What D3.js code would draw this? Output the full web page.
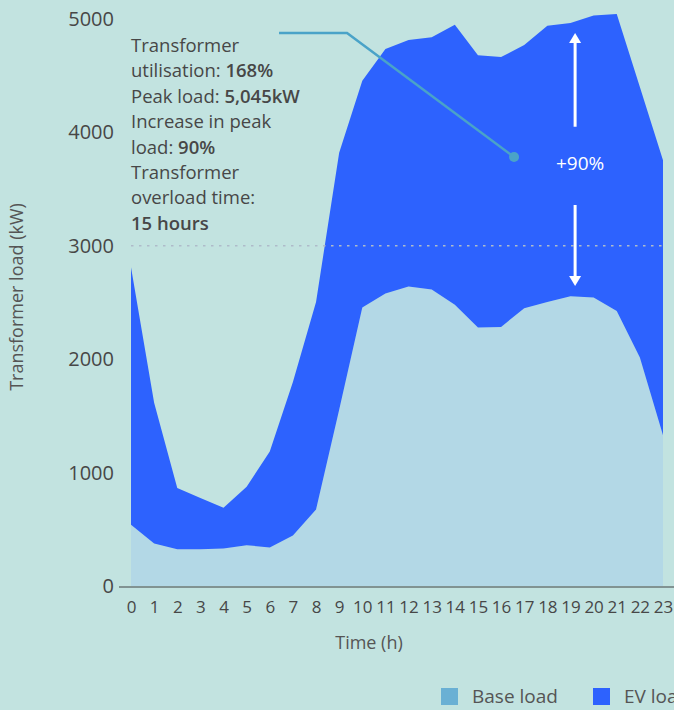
<!doctype html>
<html lang="en">
<head>
    <title>Transformer load</title>
    <script src='https://d3js.org/d3.v7.min.js'></script>
    <style>
        body { margin: 0; background: #c2e3e0; }
        svg { display: block; font-family: "Open Sans", sans-serif; }
    </style>
</head>

<body>
    <div id="chart"></div>
    <script>
        // hourly loads in kW
        var hours = d3.range(0, 24);
        var baseLoad = [540, 375, 325, 325, 330, 360, 340, 445, 675, 1555, 2455, 2580,
                        2640, 2615, 2480, 2280, 2285, 2450, 2505, 2555, 2545, 2425, 2015, 1330];
        var evLoad = [2270, 1240, 540, 450, 360, 515, 845, 1355, 1830, 2265, 2000, 2155,
                      2175, 2225, 2470, 2400, 2380, 2320, 2435, 2410, 2485, 2620, 2385, 2425];
        var yTicks = [0, 1000, 2000, 3000, 4000, 5000];
        var seriesNames = ["Base load", "EV load"];
        var capacity = 3000;

        var noteLines = [
            [["Transformer", false]],
            [["utilisation: ", false], ["168%", true]],
            [["Peak load: ", false], ["5,045kW", true]],
            [["Increase in peak", false]],
            [["load: ", false], ["90%", true]],
            [["Transformer", false]],
            [["overload time:", false]],
            [["15 hours", true]]
        ];

        var width = 674,
            height = 710;

        var baseColor = "#b3d8e6",
            baseKey = "#6ab0d4",
            evColor = "#2d62fe",
            textColor = "#474747";

        var x = d3.scaleLinear().domain([0, 23]).range([131, 663]);
        var y = d3.scaleLinear().domain([0, 5000]).range([586, 19]);

        var rows = hours.map(function(h, i) {
            return { hour: h, base: baseLoad[i], ev: evLoad[i] };
        });

        var stack = d3.stack().keys(["base", "ev"]);
        var layers = stack(rows);

        var area = d3.area()
            .x(function(d) { return x(d.data.hour); })
            .y0(function(d) { return y(d[0]); })
            .y1(function(d) { return y(d[1]); });

        var svg = d3.select("#chart").append("svg")
            .attr("width", width)
            .attr("height", height);

        svg.selectAll("path.layer")
            .data(layers)
            .enter().append("path")
            .attr("class", "layer")
            .attr("fill", function(d, i) { return i == 0 ? baseColor : evColor; })
            .attr("d", area);

        // transformer capacity line
        svg.append("line")
            .attr("x1", x(0)).attr("x2", x(23))
            .attr("y1", y(capacity)).attr("y2", y(capacity))
            .attr("stroke", "#aebbc9")
            .attr("stroke-width", 1.5)
            .attr("stroke-dasharray", "2.5,5.5");

        // y axis
        var yAxis = d3.axisLeft(y).tickValues(yTicks).tickFormat(d3.format("d"))
            .tickSize(0).tickPadding(17);
        var gy = svg.append("g")
            .attr("transform", "translate(" + x(0) + ",0)")
            .call(yAxis);
        gy.select(".domain").remove();
        gy.selectAll("text")
            .attr("fill", textColor)
            .style("font-size", "20px")
            .style("font-family", "Open Sans");

        // x axis
        var xAxis = d3.axisBottom(x).tickValues(hours).tickSize(0).tickPadding(15);
        var gx = svg.append("g")
            .attr("transform", "translate(0," + y(0) + ")")
            .call(xAxis);
        gx.select(".domain").remove();
        gx.selectAll("text")
            .attr("fill", textColor)
            .style("font-size", "17px")
            .style("font-family", "Open Sans");

        svg.append("line")
            .attr("x1", 119).attr("x2", width)
            .attr("y1", y(0) + 1).attr("y2", y(0) + 1)
            .attr("stroke", "#6b7878")
            .attr("stroke-width", 1.5);

        // axis titles
        svg.append("text")
            .attr("transform", "translate(23," + 297 + ") rotate(-90)")
            .attr("text-anchor", "middle")
            .attr("fill", "#555")
            .style("font-size", "18px")
            .text("Transformer load (kW)");

        svg.append("text")
            .attr("x", 369).attr("y", 649)
            .attr("text-anchor", "middle")
            .attr("fill", "#555")
            .style("font-size", "18px")
            .text("Time (h)");

        // annotation text
        var note = svg.append("text")
            .attr("fill", textColor)
            .style("font-size", "18.5px");
        noteLines.forEach(function(line, i) {
            line.forEach(function(part, j) {
                var ts = note.append("tspan").text(part[0]);
                if (j == 0) ts.attr("x", x(0)).attr("y", 52 + i * 25.4);
                if (part[1]) ts.attr("font-weight", 600);
            });
        });

        // leader line to the EV area
        var leader = [[6.4, 4877], [9.34, 4877], [16.56, 3783]];
        svg.append("path")
            .attr("d", d3.line()
                .x(function(d) { return x(d[0]); })
                .y(function(d) { return y(d[1]); })(leader))
            .attr("fill", "none")
            .attr("stroke", "#4aa3c8")
            .attr("stroke-width", 2.5);
        svg.append("circle")
            .attr("cx", x(leader[2][0])).attr("cy", y(leader[2][1]))
            .attr("r", 5)
            .attr("fill", "#4aa3c8");

        // +90% arrows
        var arrowHour = 19.2;
        var ax = x(arrowHour);
        function arrow(from, to) {
            var y1 = y(from), y2 = y(to);
            var dir = y2 < y1 ? 1 : -1;
            svg.append("line")
                .attr("x1", ax).attr("x2", ax)
                .attr("y1", y1).attr("y2", y2 + dir * 8)
                .attr("stroke", "white")
                .attr("stroke-width", 3);
            svg.append("path")
                .attr("d", "M" + ax + "," + y2 + "L" + (ax - 6) + "," + (y2 + dir * 10) +
                           "L" + (ax + 6) + "," + (y2 + dir * 10) + "Z")
                .attr("fill", "white");
        }
        arrow(4050, 4877);
        arrow(3360, 2645);

        svg.append("text")
            .attr("x", ax + 5).attr("y", y(3730))
            .attr("dy", "0.35em")
            .attr("text-anchor", "middle")
            .attr("fill", "white")
            .style("font-size", "19px")
            .text("+90%");

        // legend
        var legend = svg.selectAll("g.legend")
            .data(seriesNames)
            .enter().append("g")
            .attr("class", "legend")
            .attr("transform", function(d, i) { return "translate(" + (441 + i * 152) + ",688)"; });
        legend.append("rect")
            .attr("width", 17).attr("height", 17)
            .attr("fill", function(d, i) { return i == 0 ? baseKey : evColor; });
        legend.append("text")
            .attr("x", 31).attr("y", 15)
            .attr("fill", "#555")
            .style("font-size", "19px")
            .text(function(d) { return d; });
    </script>
</body>
</html>
